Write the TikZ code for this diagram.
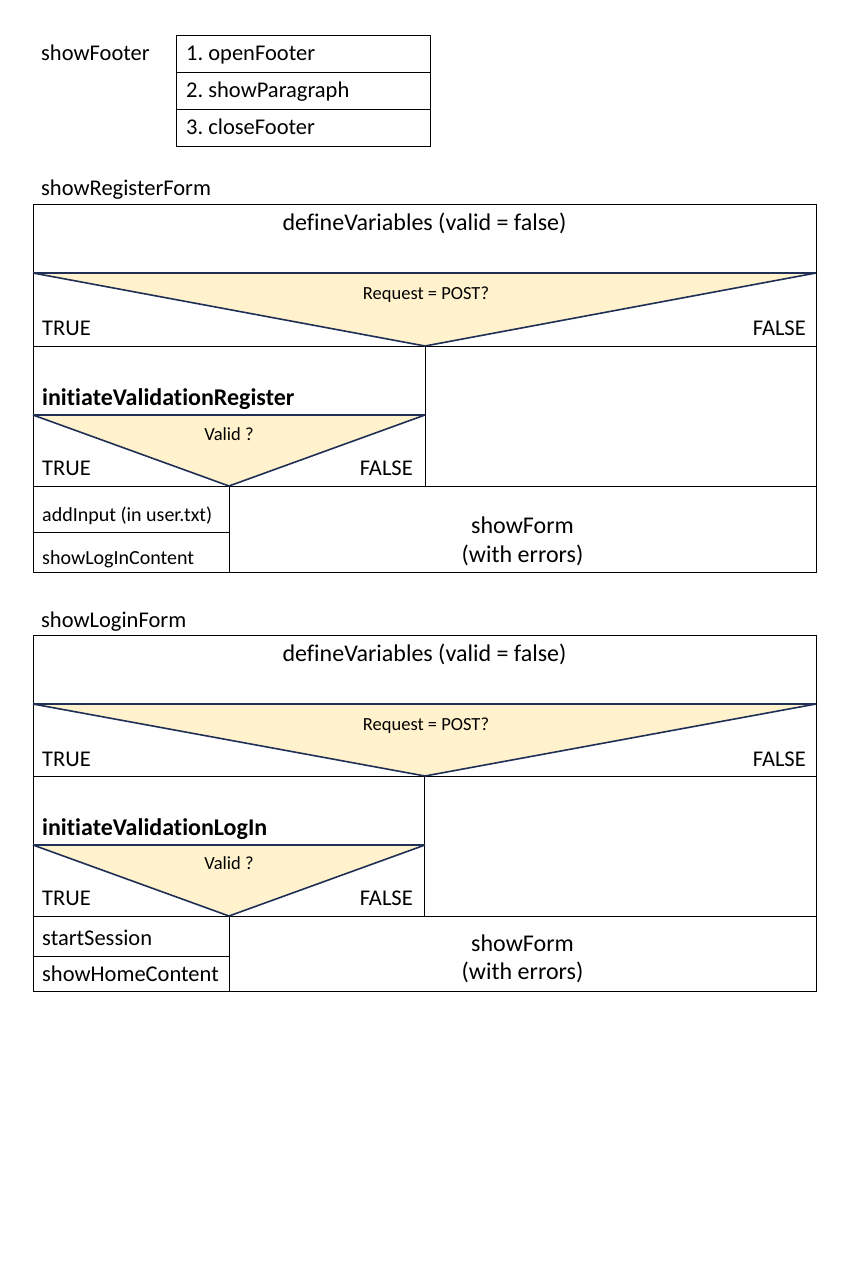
\documentclass[tikz,border=0pt]{standalone}
\usepackage{fontspec}
\setmainfont[Ligatures=NoCommon]{Carlito}
\definecolor{decfill}{HTML}{FFF2CC}
\definecolor{decline}{HTML}{1F2F55}
\frenchspacing
\begin{document}
\begin{tikzpicture}[x=1pt,y=-1pt,
  grid/.style={black,line width=1pt},
  decedge/.style={draw=decline,line width=1.6pt,line join=miter},
  big/.style={font=\fontsize{22.5}{27}\selectfont,inner sep=0pt},
  head/.style={font=\fontsize{24}{28}\selectfont,inner sep=0pt},
  bigbold/.style={font=\fontsize{24}{28}\selectfont\bfseries,inner sep=0pt},
  small/.style={font=\fontsize{20}{24}\selectfont,inner sep=0pt},
  cond/.style={font=\fontsize{18.5}{22}\selectfont,inner sep=0pt}]
\fill[white] (0,0) rectangle (850,1276);
\useasboundingbox (0,0) rectangle (850,1276);

% ---------- showFooter ----------
\node[big,anchor=base west] (footname) at (41,60.7) {showFooter};
\draw[grid] (176,36) rectangle (430,147);
\draw[grid] (176,73) -- (430,73);
\draw[grid] (176,110) -- (430,110);
\node[big,anchor=base west] (foot1) at (186,60.7) {1. openFooter};
\node[big,anchor=base west] (foot2) at (186,97.7) {2. showParagraph};
\node[big,anchor=base west] (foot3) at (186,135) {3. closeFooter};

% ---------- showRegisterForm ----------
\node[big,anchor=base west] (regname) at (41,196) {showRegisterForm};
\fill[decfill] (33,273) -- (816,273) -- (425,346) -- cycle;
\fill[decfill] (33,415) -- (425,415) -- (229,486) -- cycle;
\draw[grid] (33,204) -- (816,204) -- (816,572) -- (33,572) -- cycle;
\draw[grid] (33,346) -- (816,346);
\draw[grid] (425,346) -- (425,486);
\draw[grid] (33,486) -- (816,486);
\draw[grid] (229,486) -- (229,572);
\draw[grid] (33,532) -- (229,532);
\draw[decedge] (33,273) -- (816,273);
\draw[decedge] (33,273) -- (425,346) -- (816,273);
\draw[decedge] (33,415) -- (425,415);
\draw[decedge] (33,415) -- (229,486) -- (425,415);
\node[head,anchor=base] (regdef) at (424.5,230.7) {defineVariables (valid = false)};
\node[cond,anchor=base] (regreq) at (426,299.3) {Request = POST?};
\node[big,anchor=base west] (regtrue) at (42,335) {TRUE};
\node[big,anchor=base east] (regfalse) at (806,335) {FALSE};
\node[bigbold,anchor=base west] (regval) at (42,405) {initiateValidationRegister};
\node[cond,anchor=base] (regvq) at (229,440) {Valid ?};
\node[big,anchor=base west] (regvtrue) at (42,475) {TRUE};
\node[big,anchor=base east] (regvfalse) at (413,475) {FALSE};
\node[small,anchor=base west] (regadd) at (42,521.7) {addInput (in user.txt)};
\node[small,anchor=base west] (regshow) at (42,564.3) {showLogInContent};
\node[head,anchor=base] (regform) at (522.5,533.3) {showForm};
\node[head,anchor=base] (regerr) at (522.5,562) {(with errors)};

% ---------- showLoginForm ----------
\node[big,anchor=base west] (logname) at (41,627) {showLoginForm};
\fill[decfill] (33,704) -- (816,704) -- (425,776) -- cycle;
\fill[decfill] (33,845) -- (425,845) -- (229,916) -- cycle;
\draw[grid] (33,635) -- (816,635) -- (816,991) -- (33,991) -- cycle;
\draw[grid] (33,776) -- (816,776);
\draw[grid] (424,776) -- (424,916);
\draw[grid] (33,916) -- (816,916);
\draw[grid] (229,916) -- (229,991);
\draw[grid] (33,956) -- (229,956);
\draw[decedge] (33,704) -- (816,704);
\draw[decedge] (33,704) -- (425,776) -- (816,704);
\draw[decedge] (33,845) -- (425,845);
\draw[decedge] (33,845) -- (229,916) -- (425,845);
\node[head,anchor=base] (logdef) at (424.5,661.7) {defineVariables (valid = false)};
\node[cond,anchor=base] (logreq) at (426,730.3) {Request = POST?};
\node[big,anchor=base west] (logtrue) at (42,766) {TRUE};
\node[big,anchor=base east] (logfalse) at (806,766) {FALSE};
\node[bigbold,anchor=base west] (logval) at (42,835) {initiateValidationLogIn};
\node[cond,anchor=base] (logvq) at (229,869) {Valid ?};
\node[big,anchor=base west] (logvtrue) at (42,905) {TRUE};
\node[big,anchor=base east] (logvfalse) at (413,905) {FALSE};
\node[big,anchor=base west] (logstart) at (42,945.7) {startSession};
\node[big,anchor=base west] (loghome) at (42,981.7) {showHomeContent};
\node[head,anchor=base] (logform) at (522.5,951) {showForm};
\node[head,anchor=base] (logerr) at (522.5,979.5) {(with errors)};
\end{tikzpicture}
\end{document}
